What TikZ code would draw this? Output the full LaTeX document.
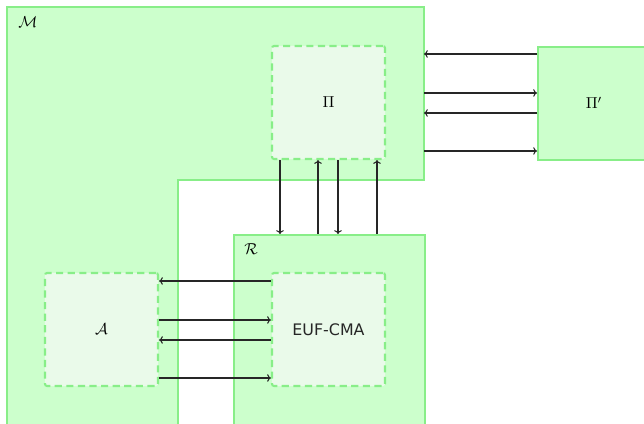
\documentclass[tikz,border=0pt]{standalone}
\usepackage{fontspec}
\usetikzlibrary{arrows.meta}
\newfontfamily\dejasans{DejaVu Sans}
\definecolor{boxfill}{HTML}{CCFFCC}
\definecolor{boxline}{HTML}{88EE88}
\definecolor{innerfill}{HTML}{EAFAEA}
\begin{document}
\begin{tikzpicture}[x=0.63pt,y=-0.63pt,
  solidbox/.style={draw=boxline,fill=boxfill,line width=1.3pt,inner sep=0pt},
  dashbox/.style={draw=boxline,fill=innerfill,line width=1.3pt,dashed,dash pattern=on 4.5pt off 2.8pt,rounded corners=1.3pt,
    minimum width=71.2pt,minimum height=71.2pt,inner sep=0pt},
  arr/.style={-{To[length=2.4pt,width=4.8pt]},line width=0.65pt,black!85}]
\useasboundingbox (0,0) rectangle (644,424);
\clip (0,0) rectangle (644,424);
% M region (L-shape)
\draw[draw=boxline,fill=boxfill,line width=1.3pt] (7,440) -- (7,7) -- (424,7) -- (424,180) -- (178,180) -- (178,440);
\coordinate (Mr) at (424,0);
\coordinate (Mlab) at (28,22);
\node at (Mlab) {$\mathcal{M}$};
% R box
\node[solidbox,anchor=north west,minimum width=120.3pt,minimum height=130pt] (R) at (233,234) {};
\node at (251,249) {$\mathcal{R}$};
% Pi' box
\node[solidbox,anchor=north west,minimum width=71.2pt,minimum height=71.2pt] (Pp) at (537,46) {};
\node at (594,103) {$\Pi'$};
% inner boxes
\node[dashbox] (Pi) at (328.5,102.5) {$\Pi$};
\node[dashbox] (A) at (101.5,329.5) {$\mathcal{A}$};
\node[dashbox] (E) at (328.5,329.5) {\dejasans\color{black!85}EUF-CMA};
% M <-> Pi'
\draw[arr] (Pp.west |- 0,54) -- (Mr |- 0,54);
\draw[arr] (Mr |- 0,93) -- (Pp.west |- 0,93);
\draw[arr] (Pp.west |- 0,113) -- (Mr |- 0,113);
\draw[arr] (Mr |- 0,151) -- (Pp.west |- 0,151);
% Pi <-> R
\draw[arr] (Pi.south -| 280,0) -- (R.north -| 280,0);
\draw[arr] (R.north -| 318,0) -- (Pi.south -| 318,0);
\draw[arr] (Pi.south -| 338,0) -- (R.north -| 338,0);
\draw[arr] (R.north -| 377,0) -- (Pi.south -| 377,0);
% A <-> EUF-CMA
\draw[arr] (E.west |- 0,281) -- (A.east |- 0,281);
\draw[arr] (A.east |- 0,320) -- (E.west |- 0,320);
\draw[arr] (E.west |- 0,340) -- (A.east |- 0,340);
\draw[arr] (A.east |- 0,378) -- (E.west |- 0,378);
\end{tikzpicture}
\end{document}
